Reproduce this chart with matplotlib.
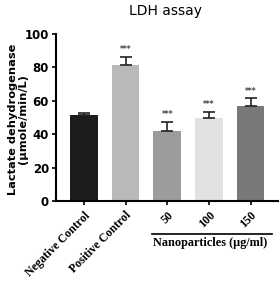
import matplotlib
matplotlib.use("Agg")
import matplotlib.pyplot as plt
import numpy as np

groups = ["Negative Control", "Positive Control", "50", "100", "150"]
ldh = [51.5, 81.5, 42.0, 50.0, 57.0]
sem = [1.5, 5.0, 5.5, 3.5, 4.5]
stars = ["", "***", "***", "***", "***"]
colors = ["#1c1c1c", "#b9b9b9", "#9c9c9c", "#e2e2e2", "#797979"]

fig = plt.figure(figsize=(2.8, 2.84), dpi=100)
ax = fig.add_axes([0.2, 0.292, 0.793, 0.588])

x = np.arange(len(groups))
ax.bar(x, ldh, width=0.66, color=colors, zorder=2)
ax.errorbar(x, ldh, yerr=[np.zeros(len(sem)), sem], fmt="none", ecolor="#222222",
            elinewidth=1.2, capsize=4, capthick=1.2, zorder=3)
for xi, v, e, s in zip(x, ldh, sem, stars):
    if s:
        ax.text(xi, v + e + 1.5, s, ha="center", va="bottom", fontsize=5.5,
                color="#444444", fontweight="bold")

ax.set_xlim(-0.67, 4.66)
ax.set_ylim(0, 100)
ax.set_yticks([0, 20, 40, 60, 80, 100])
ax.set_xticks(x)
ax.set_xticklabels(groups, rotation=45, ha="right", rotation_mode="anchor",
                   family="Liberation Serif", fontweight="bold", fontsize=8.5)
for lab in ax.get_yticklabels():
    lab.set_fontweight("bold")
    lab.set_fontsize(8.5)
ax.tick_params(axis="both", width=1.2, length=3, pad=2)
ax.tick_params(axis="x", pad=3)
for sp in ["top", "right"]:
    ax.spines[sp].set_visible(False)
for sp in ["left", "bottom"]:
    ax.spines[sp].set_linewidth(1.5)

ax.set_ylabel("Lactate dehydrogenase\n(µmole/min/L)", fontsize=8.2, fontweight="bold",
              linespacing=1.0)
ax.yaxis.set_label_coords(-0.128, 0.49)
fig.text(0.59, 0.963, "LDH assay", ha="center", va="center", fontsize=10,
         fontweight="medium")

# group bracket under nanoparticle doses
fig.add_artist(plt.Line2D([0.543, 0.972], [0.176, 0.176], color="black", lw=1.2))
fig.text(0.752, 0.143, "Nanoparticles (µg/ml)", ha="center", va="center",
         family="Liberation Serif", fontweight="bold", fontsize=8.8)

fig.savefig("out.png", dpi=100)
